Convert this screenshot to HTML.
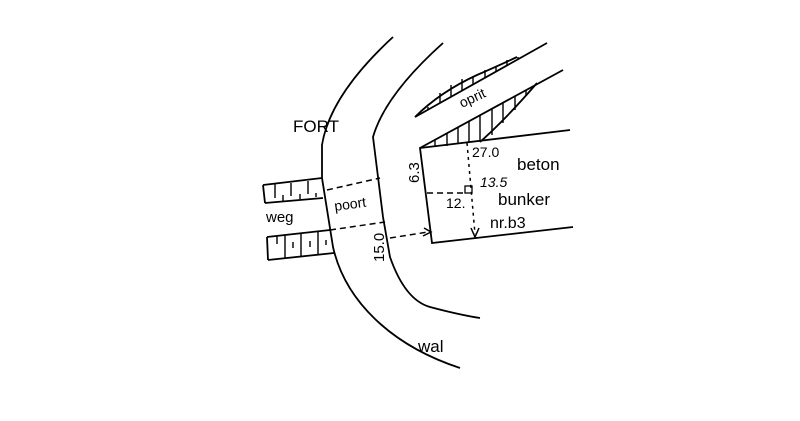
<!DOCTYPE html>
<html><head><style>body{margin:0;background:#fff}svg{display:block}</style></head><body>
<svg width="800" height="421" viewBox="0 0 800 421" xmlns="http://www.w3.org/2000/svg" font-family="Liberation Sans, sans-serif" fill="none" stroke="#000" stroke-width="1.8">
<!-- outer wall -->
<path d="M393,37 Q330,95 322,145 L322,178 L333,247 C345,300 390,345 460,368"/>
<!-- inner wall -->
<path d="M443,43 Q385,95 373,137 L383,217 L390,257 Q405,300 430,307 Q460,315 480,318"/>
<!-- weg bands -->
<path d="M263,185 L322,178 M265,203 L323,198 M263,185 L265,203"/>
<path d="M267,237 L330,230 M268,260 L334,253 M267,237 L268,260"/>
<path stroke-width="1.4" d="M275,184v14 M283,195v6 M291,183v13 M300,194v5 M308,181v13 M316,193v4 M277,236v8 M285,235v23 M293,242v6 M301,234v23 M310,241v6 M318,232v22 M326,240v5"/>
<!-- dashed -->
<path stroke-dasharray="6,4" stroke-width="1.5" d="M327,190 L380,178 M330,230 L385,222 M390,238 L428,232 M427,193 L466,193"/>
<path d="M424,228 L431,232 L423,236" stroke-width="1.5"/>
<path stroke-dasharray="3,4" stroke-width="1.5" d="M467,143 L475,234"/>
<path d="M471,228 L475,237 L479,228" stroke-width="1.5"/>
<rect x="465" y="186" width="7" height="7" stroke-width="1.3"/>
<!-- bunker -->
<path d="M570,130 L420,148 L432,243 L573,227"/>
<!-- lower wedge -->
<path d="M420,148 L563,70"/>
<path d="M480,142 Q505,120 537,83"/>
<path stroke-width="1.4" d="M435,140v6 M447,133v13 M458,127v17 M469,121v22 M480,115v27 M492,109v26 M503,103v20 M515,96v14 M526,90v5"/>
<!-- upper wedge -->
<path d="M415,117 L547,43"/>
<path d="M415,117 Q440,92 477,75 Q500,65 517,57"/>
<path stroke-width="1.4" d="M428,110v-3 M440,103v-10 M451,97v-12 M462,91v-12 M473,85v-9 M485,78v-8 M496,72v-6 M507,66v-6 M518,60v-3"/>
<g fill="#000" stroke="none" font-size="15">
<text x="293" y="132" font-size="17">FORT</text>
<text x="266" y="222">weg</text>
<text x="335" y="211" font-size="14" transform="rotate(-8 335 211)">poort</text>
<text x="0" y="0" transform="translate(384,262) rotate(-90)">15.0</text>
<text x="0" y="0" transform="translate(419,183) rotate(-90)">6.3</text>
<text x="472" y="157" font-size="14">27.0</text>
<text x="517" y="170" font-size="17">beton</text>
<text x="480" y="187" font-size="14" font-style="italic">13.5</text>
<text x="498" y="205" font-size="17">bunker</text>
<text x="490" y="228" font-size="16">nr.b3</text>
<text x="446" y="208" font-size="14">12.</text>
<text x="418" y="352" font-size="17">wal</text>
<text x="0" y="0" font-size="14" transform="translate(462,108) rotate(-25)">oprit</text>
</g>
</svg>
</body></html>
